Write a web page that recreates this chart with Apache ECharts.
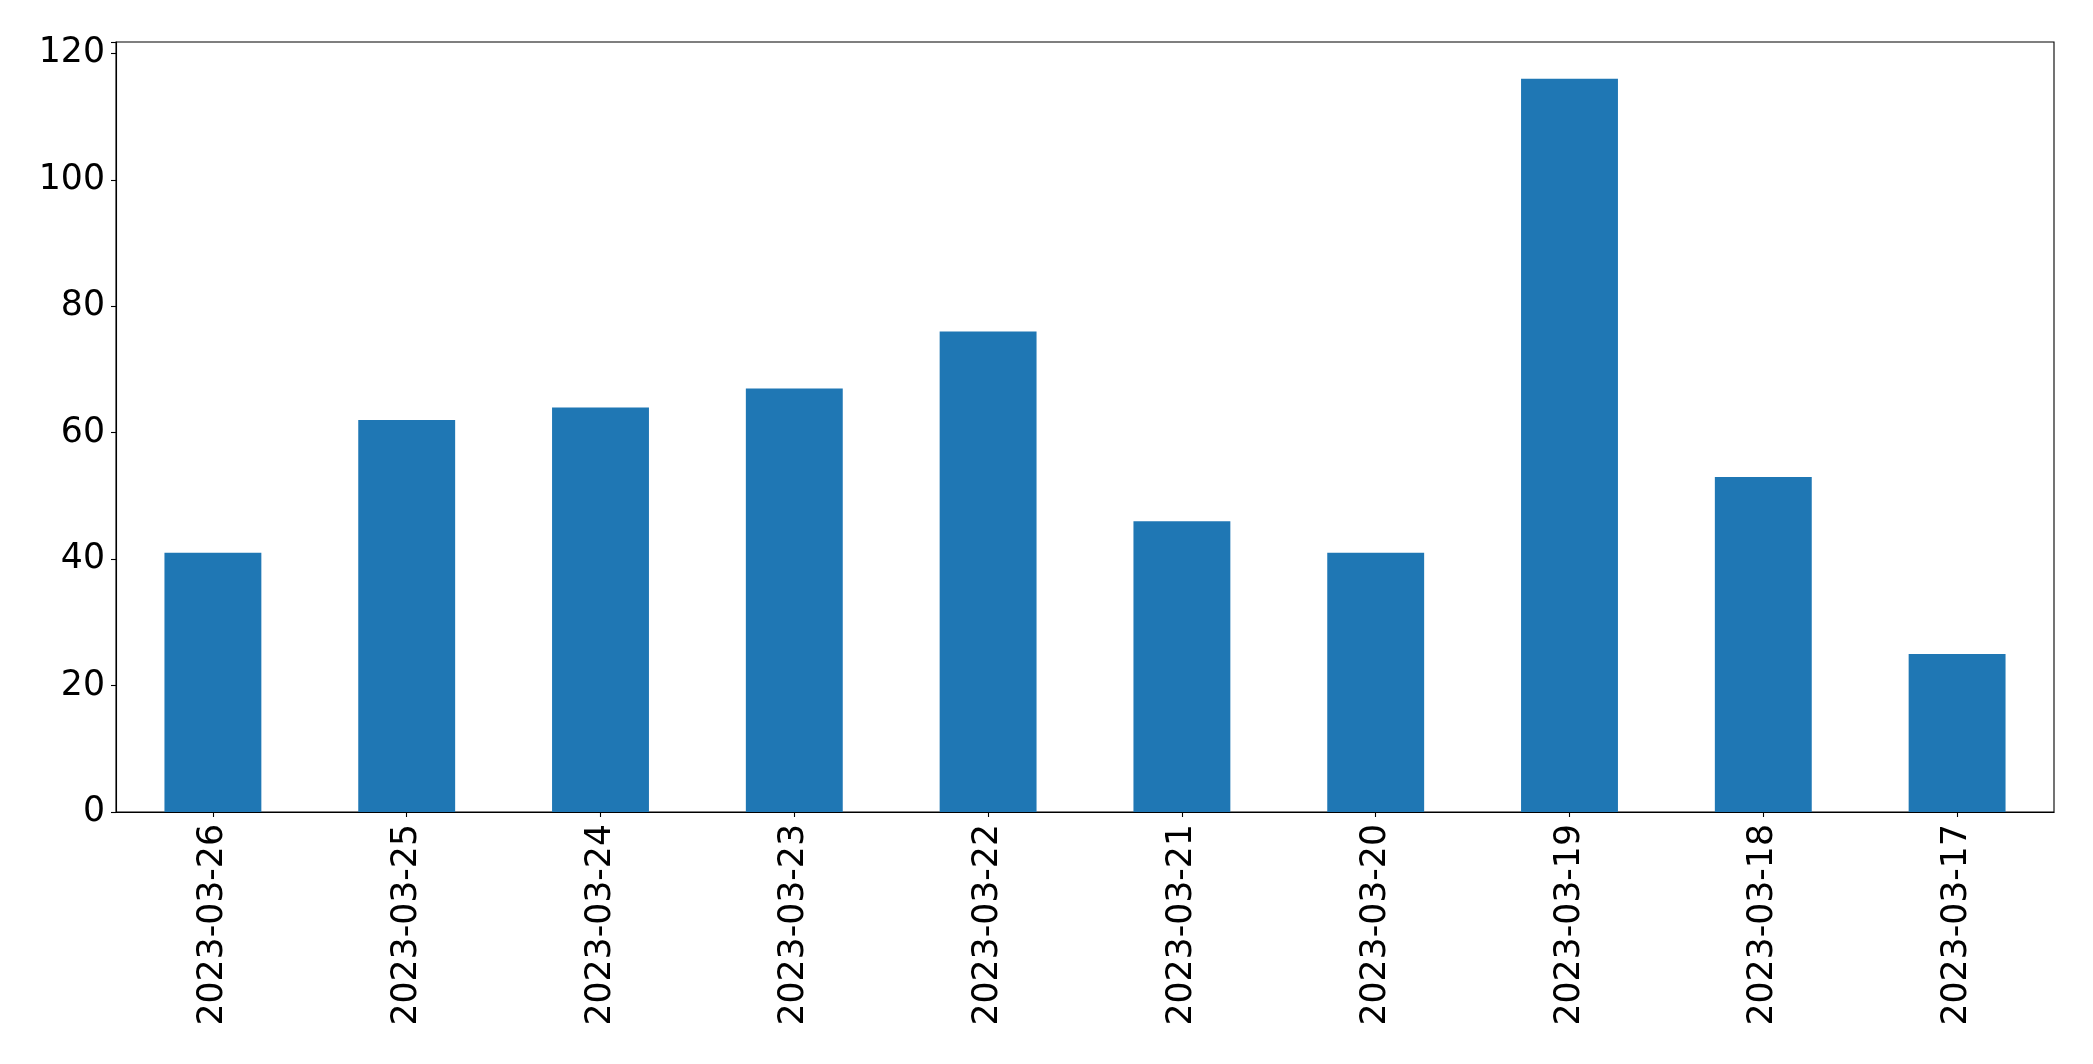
<!DOCTYPE html>
<html>
<head>
<meta charset="utf-8">
<script src="https://cdn.jsdelivr.net/npm/echarts@6/dist/echarts.min.js"></script>
<style>
html,body{margin:0;padding:0;background:#fff;}
#chart{width:2093px;height:1064px;}
</style>
</head>
<body>
<div id="chart"></div>
<script>
const categories = ['2023-03-26','2023-03-25','2023-03-24','2023-03-23','2023-03-22','2023-03-21','2023-03-20','2023-03-19','2023-03-18','2023-03-17'];
const values = [41, 62, 64, 67, 76, 46, 41, 116, 53, 25];
const yTicks = [0, 20, 40, 60, 80, 100, 120];

const chart = echarts.init(document.getElementById('chart'), null, {renderer: 'canvas'});
const font = '"DejaVu Sans", sans-serif';
chart.setOption({
  animation: false,
  backgroundColor: '#ffffff',
  grid: {left: 116, right: 39, top: 42, bottom: 252, show: true, borderColor: '#000', borderWidth: 1.1, backgroundColor: 'transparent'},
  xAxis: {
    type: 'category',
    data: categories,
    boundaryGap: true,
    axisLine: {show: true, lineStyle: {color: '#000', width: 1.1}},
    axisTick: {show: true, alignWithLabel: true, length: 5, lineStyle: {color: '#000', width: 1.1}},
    axisLabel: {rotate: 90, fontSize: 34.7, color: '#000', fontFamily: font, margin: 12, interval: 0}
  },
  yAxis: {
    type: 'value',
    min: 0,
    max: 121.8,
    interval: 20,
    splitLine: {show: false},
    axisLine: {show: true, lineStyle: {color: '#000', width: 1.1}},
    axisTick: {show: true, length: 5, lineStyle: {color: '#000', width: 1.1}},
    axisLabel: {fontSize: 34.7, color: '#000', fontFamily: font, margin: 11, padding: [6, 0, 0, 0],
      formatter: function(v){ return yTicks.indexOf(v) >= 0 ? String(v) : ''; }}
  },
  series: [{
    type: 'bar',
    data: values,
    barWidth: '50%',
    itemStyle: {color: '#1f77b4'}
  }]
});
</script>
</body>
</html>
